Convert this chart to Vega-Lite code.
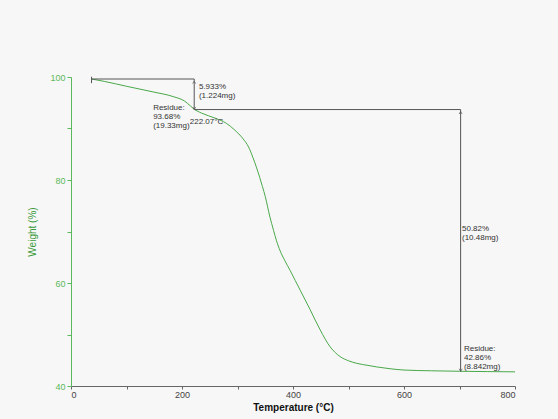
{
  "$schema": "https://vega.github.io/schema/vega-lite/v6.json",
  "width": 444,
  "height": 309,
  "autosize": {"type": "none"},
  "padding": {"left": 71, "top": 77, "right": 43, "bottom": 33},
  "background": "#f7f7f7",
  "config": {"view": {"stroke": null}, "font": "Liberation Sans"},
  "datasets": {
    "curve": [
      {"t": 37, "w": 99.61}, {"t": 60, "w": 99.15}, {"t": 100, "w": 98.2}, {"t": 148, "w": 97.1},
      {"t": 184, "w": 96.2}, {"t": 205, "w": 95.3}, {"t": 215, "w": 94.4}, {"t": 222, "w": 93.75},
      {"t": 235, "w": 93.0}, {"t": 260, "w": 92.0}, {"t": 280, "w": 91.0}, {"t": 295, "w": 89.7},
      {"t": 310, "w": 88.0}, {"t": 320, "w": 86.4}, {"t": 328, "w": 84.3}, {"t": 334, "w": 82.5},
      {"t": 340, "w": 80.5}, {"t": 345, "w": 78.7}, {"t": 350, "w": 76.8}, {"t": 358, "w": 73.0},
      {"t": 365, "w": 70.2}, {"t": 370, "w": 68.3}, {"t": 377, "w": 66.2}, {"t": 385, "w": 64.4},
      {"t": 395, "w": 62.4}, {"t": 404, "w": 60.5}, {"t": 413, "w": 58.6}, {"t": 422, "w": 56.7},
      {"t": 431, "w": 54.8}, {"t": 440, "w": 52.8}, {"t": 449, "w": 50.9}, {"t": 458, "w": 49.1},
      {"t": 467, "w": 47.6}, {"t": 476, "w": 46.5}, {"t": 485, "w": 45.7}, {"t": 500, "w": 44.9},
      {"t": 515, "w": 44.4}, {"t": 535, "w": 44.0}, {"t": 551, "w": 43.7}, {"t": 575, "w": 43.35},
      {"t": 600, "w": 43.1}, {"t": 650, "w": 42.95}, {"t": 700, "w": 42.86}, {"t": 750, "w": 42.8},
      {"t": 800, "w": 42.75}
    ],
    "segs": [
      {"x": 37, "x2": 222, "y": 99.61, "y2": 99.61},
      {"x": 37, "x2": 37, "y": 100.05, "y2": 98.8},
      {"x": 222, "x2": 222, "y": 99.61, "y2": 93.68},
      {"x": 222, "x2": 702, "y": 93.68, "y2": 93.68},
      {"x": 702, "x2": 702, "y": 93.68, "y2": 42.86}
    ],
    "arrows": [
      {"x": 222, "y": 99.2, "dir": "up"},
      {"x": 222, "y": 93.68, "dir": "down"},
      {"x": 702, "y": 93.3, "dir": "up"},
      {"x": 702, "y": 42.86, "dir": "down"}
    ],
    "labels": [
      {"x": 230.5, "y": 98.06, "txt": "5.933%"},
      {"x": 230.5, "y": 96.3, "txt": "(1.224mg)"},
      {"x": 148, "y": 94.0, "txt": "Residue:"},
      {"x": 148, "y": 92.25, "txt": "93.68%"},
      {"x": 148, "y": 90.5, "txt": "(19.33mg)"},
      {"x": 214, "y": 91.3, "txt": "222.07°C"},
      {"x": 704.5, "y": 70.5, "txt": "50.82%"},
      {"x": 704.5, "y": 68.75, "txt": "(10.48mg)"},
      {"x": 708, "y": 47.2, "txt": "Residue:"},
      {"x": 708, "y": 45.45, "txt": "42.86%"},
      {"x": 708, "y": 43.7, "txt": "(8.842mg)"}
    ]
  },
  "layer": [
    {
      "data": {"name": "curve"},
      "mark": {"type": "line", "color": "#4aa84a", "strokeWidth": 1, "interpolate": "monotone"},
      "encoding": {
        "x": {
          "field": "t", "type": "quantitative",
          "scale": {"domain": [0, 800], "nice": false, "zero": false},
          "axis": {
            "title": "Temperature (°C)", "titleFontSize": 10, "titleFontWeight": "bold", "titleColor": "#111",
            "titlePadding": 3,
            "values": [0, 100, 200, 300, 400, 500, 600, 700, 800],
            "labelExpr": "datum.value % 200 == 0 ? datum.label : ''",
            "labelFontSize": 9, "labelColor": "#444", "labelPadding": 1,
            "grid": false, "domainColor": "#666", "tickColor": "#666", "tickSize": 3
          }
        },
        "y": {
          "field": "w", "type": "quantitative",
          "scale": {"domain": [40, 100], "nice": false, "zero": false},
          "axis": {
            "title": "Weight (%)", "titleFontSize": 10, "titleFontWeight": "normal", "titleColor": "#3a9a3a",
            "titlePadding": 12,
            "values": [40, 50, 60, 70, 80, 90, 100],
            "labelExpr": "datum.value % 20 == 0 ? datum.label : ''",
            "labelFontSize": 9, "labelColor": "#5cb85c", "labelPadding": 2,
            "grid": false, "domainColor": "#5cb85c", "tickColor": "#5cb85c", "tickSize": 4
          }
        }
      }
    },
    {
      "mark": {"type": "rule", "color": "#666", "strokeWidth": 1},
      "encoding": {"y": {"datum": 100, "type": "quantitative"}}
    },
    {
      "mark": {"type": "rule", "color": "#5cb85c", "strokeWidth": 1},
      "encoding": {"x": {"datum": 800, "type": "quantitative"}}
    },
    {
      "data": {"name": "segs"},
      "mark": {"type": "rule", "color": "#555", "strokeWidth": 1},
      "encoding": {
        "x": {"field": "x", "type": "quantitative"},
        "x2": {"field": "x2"},
        "y": {"field": "y", "type": "quantitative"},
        "y2": {"field": "y2"}
      }
    },
    {
      "data": {"name": "arrows"},
      "mark": {"type": "point", "filled": false, "stroke": "#555", "strokeWidth": 1, "size": 25},
      "encoding": {
        "x": {"field": "x", "type": "quantitative"},
        "y": {"field": "y", "type": "quantitative"},
        "shape": {
          "field": "dir", "type": "nominal", "legend": null,
          "scale": {"domain": ["up", "down"], "range": ["M-0.6,1L0,0L0.6,1", "M-0.6,-1L0,0L0.6,-1"]}
        }
      }
    },
    {
      "data": {"name": "labels"},
      "mark": {"type": "text", "align": "left", "baseline": "middle", "fontSize": 8, "color": "#333"},
      "encoding": {
        "x": {"field": "x", "type": "quantitative"},
        "y": {"field": "y", "type": "quantitative"},
        "text": {"field": "txt"}
      }
    }
  ]
}
